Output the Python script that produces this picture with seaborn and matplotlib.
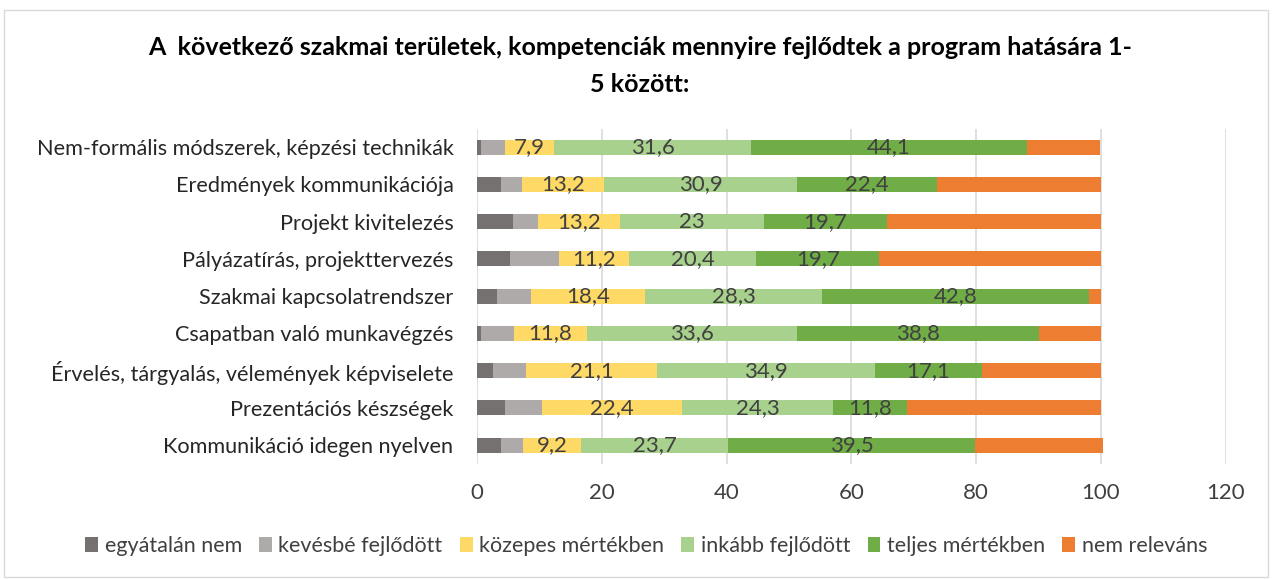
import matplotlib.pyplot as plt
import pandas as pd
import seaborn as sns
from matplotlib.patches import Rectangle

# categories top -> bottom
categories = [
    "Nem-formális módszerek, képzési technikák",
    "Eredmények kommunikációja",
    "Projekt kivitelezés",
    "Pályázatírás, projekttervezés",
    "Szakmai kapcsolatrendszer",
    "Csapatban való munkavégzés",
    "Érvelés, tárgyalás, vélemények képviselete",
    "Prezentációs készségek",
    "Kommunikáció idegen nyelven",
]

series_names = ["egyátalán nem", "kevésbé fejlődött", "közepes mértékben",
                "inkább fejlődött", "teljes mértékben", "nem releváns"]

egyatalan_nem = [0.6, 3.9, 5.8, 5.3, 3.2, 0.6, 2.5, 4.5, 3.9]
kevesbe = [3.9, 3.3, 4.0, 7.9, 5.4, 5.3, 5.3, 5.9, 3.5]
kozepes = [7.9, 13.2, 13.2, 11.2, 18.4, 11.8, 21.1, 22.4, 9.2]
inkabb = [31.6, 30.9, 23, 20.4, 28.3, 33.6, 34.9, 24.3, 23.7]
teljes = [44.1, 22.4, 19.7, 19.7, 42.8, 38.8, 17.1, 11.8, 39.5]
nem_relevans = [11.8, 26.3, 34.3, 35.5, 1.9, 9.9, 19.1, 31.1, 20.5]

colors = ["#767171", "#AEAAAA", "#FFD966", "#A9D18E", "#70AD47", "#ED7D31"]
labelled = [False, False, True, True, True, False]

df = pd.DataFrame({"kategoria": categories})
for name, vals in zip(series_names, [egyatalan_nem, kevesbe, kozepes, inkabb, teljes, nem_relevans]):
    df[name] = vals

# cumulative sums for stacking
cum = df[series_names].cumsum(axis=1)

plt.rcParams["font.family"] = ["Lato", "DejaVu Sans"]
fig = plt.figure(figsize=(12.72, 5.79), dpi=100)
ax = fig.add_axes([0.375, 0.199, 0.9635 - 0.375, 0.778 - 0.199])

# draw from the widest cumulative layer to the narrowest
for name, color in reversed(list(zip(series_names, colors))):
    sns.barplot(x=cum[name], y=df["kategoria"], orient="h", color=color,
                width=0.4, ax=ax, label=name, saturation=1)
if ax.get_legend() is not None:
    ax.get_legend().remove()

# value labels (middle three series)
for j, name in enumerate(series_names):
    if not labelled[j]:
        continue
    left = cum[name] - df[name]
    for i, v in enumerate(df[name]):
        txt = f"{v:g}".replace(".", ",")
        ax.text(left[i] + v / 2, i, txt, ha="center", va="center",
                fontsize=16, color="#404040")

ax.set_xlim(0, 120)
ax.set_ylim(8.5, -0.5)
ax.set_xticks(range(0, 121, 20))
ax.set_xlabel("")
ax.set_ylabel("")
ax.xaxis.grid(True, color="#d9d9d9", linewidth=1.2)
ax.yaxis.grid(False)
ax.set_axisbelow(True)
for s in ax.spines.values():
    s.set_visible(False)
ax.tick_params(axis="both", length=0, labelsize=16, colors="#404040")
ax.tick_params(axis="y", pad=17, labelsize=15.6)
ax.tick_params(axis="x", pad=14)
for lbl in ax.get_yticklabels():
    lbl.set_color("#262626")

# legend in original series order
handles, labels = ax.get_legend_handles_labels()
order = [labels.index(n) for n in series_names]
fig.legend([handles[k] for k in order], [labels[k] for k in order],
           loc="center", bbox_to_anchor=(0.508, 0.057), ncol=6, frameon=False,
           fontsize=15.5, handlelength=0.6, handleheight=0.7, handletextpad=0.3,
           columnspacing=0.8, labelcolor="#404040")

fig.suptitle("A  következő szakmai területek, kompetenciák mennyire fejlődtek a program hatására 1-\n5 között:",
             x=0.503, y=0.937, fontsize=18, fontweight="bold", color="black",
             linespacing=1.7, va="top")

fig.patches.append(Rectangle((0.003, 0.003), 0.994, 0.98, transform=fig.transFigure,
                             fill=False, edgecolor="#d9d9d9", linewidth=1))

fig.savefig("out.png", dpi=100)
